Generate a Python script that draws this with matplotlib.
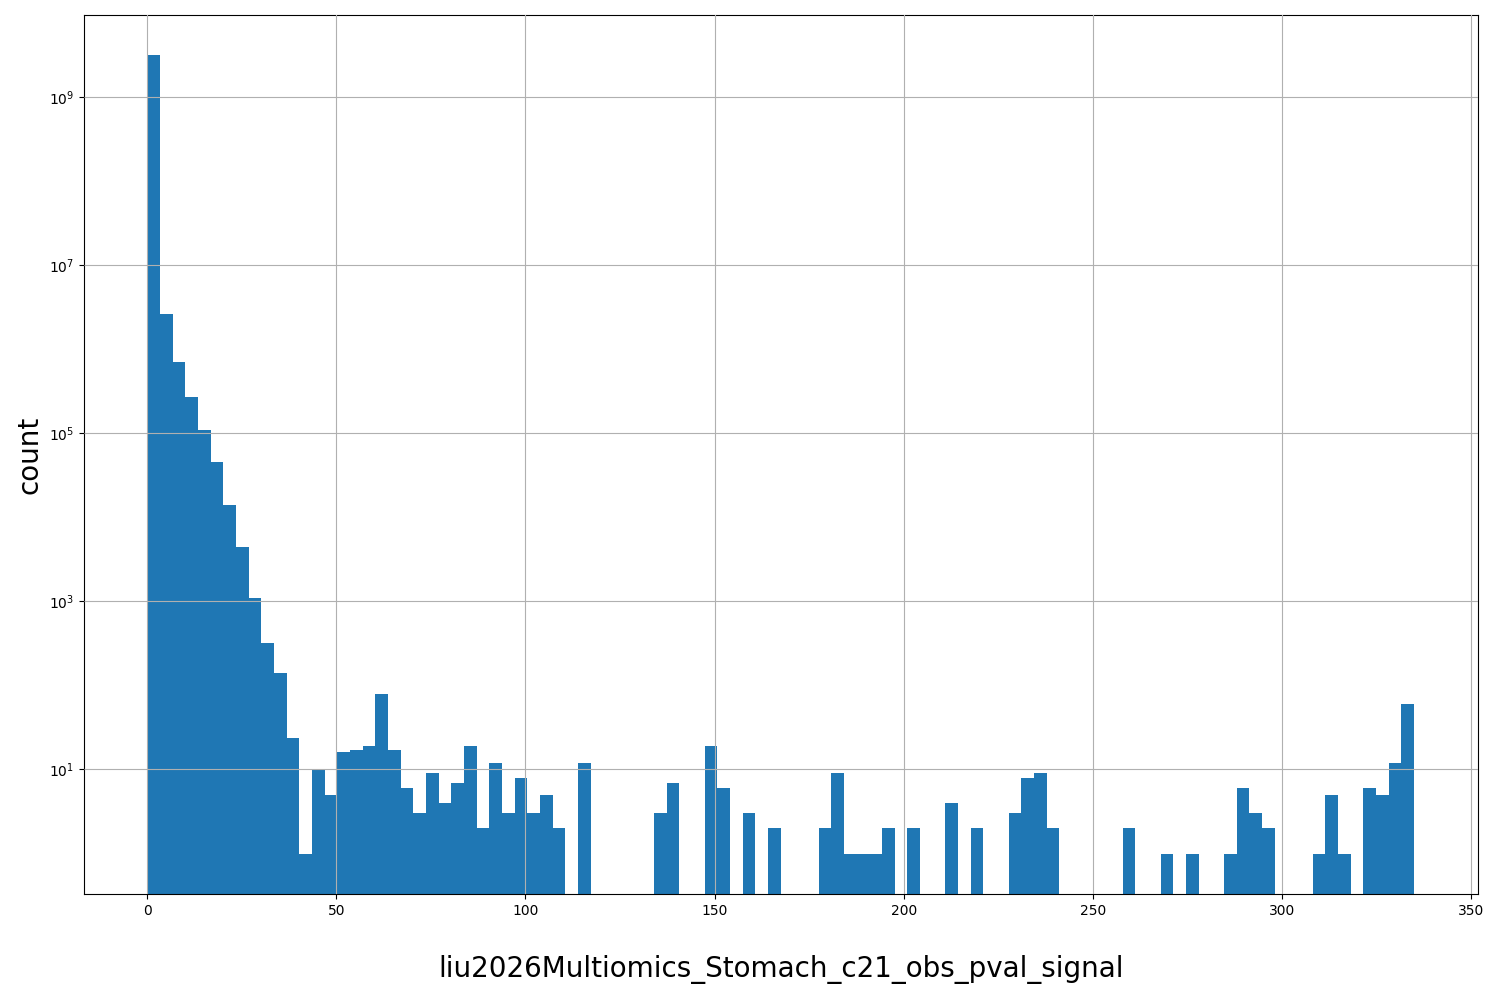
import numpy as np
import matplotlib
matplotlib.use("Agg")
import matplotlib.pyplot as plt

bin_width = 3.35
n_bins = 100
bin_index = [0,1,2,3,4,5,6,7,8,9,10,11,12,13,14,15,16,17,18,19,20,21,22,23,24,25,26,27,28,29,30,31,32,
             34,40,41,44,45,47,49,53,54,55,56,57,58,60,63,65,68,69,70,71,77,80,82,85,86,87,88,92,93,94,96,97,98,99]
counts = [3.2e9,2.6e6,7e5,2.7e5,1.1e5,4.5e4,1.4e4,4.4e3,1.1e3,320,140,24,1,10,5,16,17,19,80,17,6,3,9,4,7,19,2,12,3,8,3,5,2,
          12,3,7,19,6,3,2,2,9,1,1,1,2,2,4,2,3,8,9,2,2,1,1,1,6,3,2,1,5,1,6,5,12,60]

edges = np.arange(n_bins + 1) * bin_width
centers = (edges[:-1] + edges[1:]) / 2
w = np.zeros(n_bins)
w[bin_index] = counts

fig, ax = plt.subplots(figsize=(15, 10), dpi=100)
ax.hist(centers, bins=edges, weights=w, color='#1f77b4', log=True)
ax.set_ylim(0.33, 9.5e9)
ax.set_xticks([0, 50, 100, 150, 200, 250, 300, 350])
ax.grid(True)
ax.set_axisbelow(False)
ax.set_xlabel('liu2026Multiomics_Stomach_c21_obs_pval_signal', fontsize=20, labelpad=27)
ax.set_ylabel('count', fontsize=20)
fig.subplots_adjust(left=0.056, right=0.985, top=0.985, bottom=0.106)
fig.savefig('out.png')
